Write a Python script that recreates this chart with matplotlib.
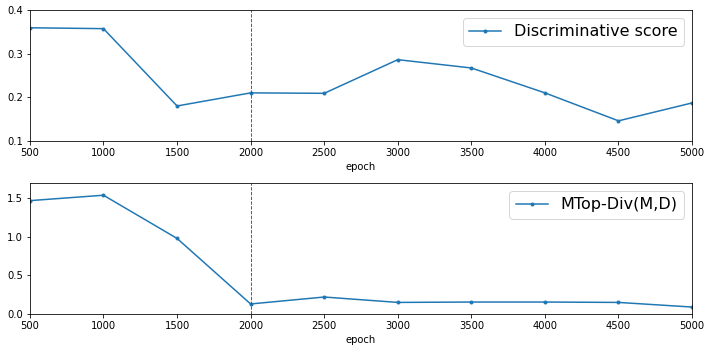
import numpy as np
import matplotlib
matplotlib.use("Agg")
import matplotlib.pyplot as plt

epochs = [500, 1000, 1500, 2000, 2500, 3000, 3500, 4000, 4500, 5000]
disc_score = [0.359, 0.357, 0.180, 0.210, 0.209, 0.286, 0.267, 0.210, 0.146, 0.187]
mtop_div = [1.47, 1.54, 0.98, 0.13, 0.22, 0.15, 0.155, 0.155, 0.15, 0.09]
split_epoch = 2000

fig, ax = plt.subplots(2, 1, figsize=(712/72, 352/72), dpi=72)

ax[0].plot(epochs, disc_score, marker='.', label='Discriminative score')
ax[0].axvline(split_epoch, color='r', ls='--', lw=0.9)
ax[0].set_xlim(500, 5000)
ax[0].set_ylim(0.1, 0.4)
ax[0].set_yticks([0.1, 0.2, 0.3, 0.4])
ax[0].set_xlabel('epoch')
ax[0].legend(fontsize=16, loc='upper right')

ax[1].plot(epochs, mtop_div, marker='.', label='MTop-Div(M,D)')
ax[1].axvline(split_epoch, color='r', ls='--', lw=0.9)
ax[1].set_xlim(500, 5000)
ax[1].set_ylim(0, 1.7)
ax[1].set_xlabel('epoch')
ax[1].legend(fontsize=16, loc='upper right')

fig.subplots_adjust(left=0.042, right=0.972, top=0.972, bottom=0.108, hspace=0.32)
plt.savefig('out.png', dpi=72)
